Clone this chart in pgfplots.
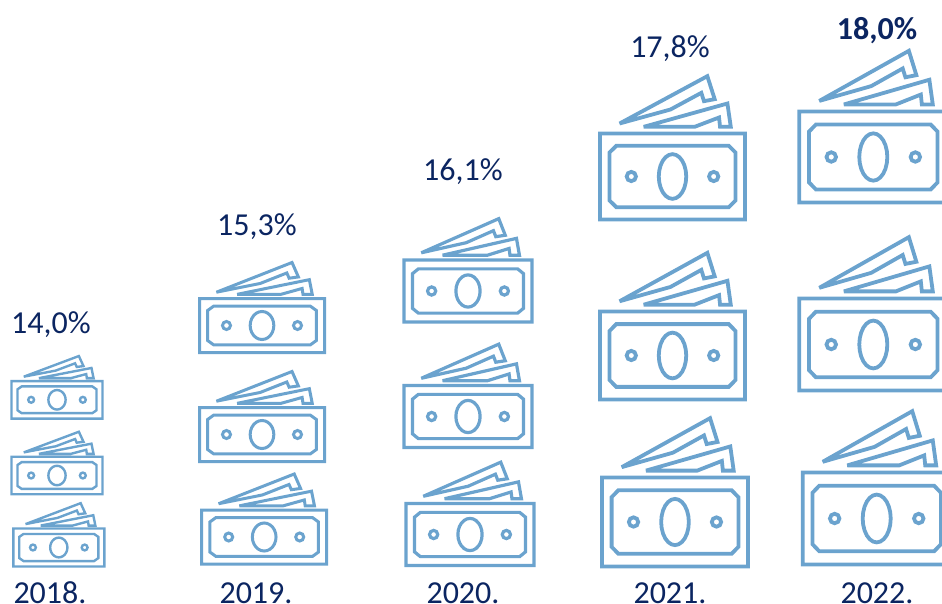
\documentclass[border=0pt]{standalone}
\usepackage{fontspec}
\setmainfont{Carlito}
\usepackage{pgfplots}
\usepackage{pgfplotstable}
\pgfplotsset{compat=1.18}

\definecolor{billblue}{HTML}{6BA3CE}
\definecolor{labelnavy}{HTML}{0B2561}

% one banknote, units relative to the centre of the front note
\pgfplotstableread{
u v
-216.5 129
216.5 129
216.5 -129
-216.5 -129
-216.5 129
216.5 129
nan nan
-168 92
168 92
188 72
188 -72
168 -92
-168 -92
-188 -72
-188 72
-168 92
168 92
nan nan
-158 159
104 301
126 232
94 226
86 251
-6 201
-158 159
104 301
nan nan
-86 149
164 219
174 149
142 149
139 177
66 149
-86 149
164 219
nan nan
41 0
39.6 17.4
35.5 33.5
29 47.4
20.5 58
10.6 64.7
0 67
-10.6 64.7
-20.5 58
-29 47.4
-35.5 33.5
-39.6 17.4
-41 0
-39.6 -17.4
-35.5 -33.5
-29 -47.4
-20.5 -58
-10.6 -64.7
0 -67
10.6 -64.7
20.5 -58
29 -47.4
35.5 -33.5
39.6 -17.4
41 0
39.6 17.4
}\billshape

% the two small circles
\pgfplotstableread{
u v
-123 0
123 0
}\billdots

\pgfplotstableread{
x y lab
51 324.5 14,0\%
257 226.5 15,3\%
463 171.5 16,1\%
670 48.5 17,8\%
877 30.5 \textbf{18,0\%}
}\sharelabels

% centre x, centre y, width, height, line width
\newcommand{\bill}[5]{%
  \addplot[billblue, line width=#5, line join=miter, miter limit=3, unbounded coords=jump]
    table[x expr={#1+\thisrow{u}*#3/433}, y expr={#2-\thisrow{v}*#4/258}] {\billshape};
  \addplot[only marks, mark=o, mark size={0.032*#3}, mark options={draw=billblue, line width=#5, fill=none}]
    table[x expr={#1+\thisrow{u}*#3/433}, y expr={#2-\thisrow{v}*#4/258}] {\billdots};
}

\begin{document}
\begin{tikzpicture}
\useasboundingbox (0,0) rectangle (942pt,604pt);
\clip (0,0) rectangle (942pt,604pt);
\begin{axis}[
    at={(0,0)}, anchor=south west,
    width=942pt, height=604pt, scale only axis,
    xmin=0, xmax=942, ymin=0, ymax=604,
    y dir=reverse,
    axis line style={draw=none},
    major tick length=0pt,
    ytick=\empty,
    xtick={50,256,463,670,877},
    xticklabels={2018.,2019.,2020.,2021.,2022.},
    xticklabel style={anchor=base, yshift=1pt, text=labelnavy, font=\fontsize{32}{38}\selectfont},
]
\bill{57}{399.8}{91}{37.5}{2.4pt}
\bill{57}{475.5}{91}{37.5}{2.4pt}
\bill{58.8}{547.5}{91}{38}{2.4pt}

\bill{262}{325.5}{125}{54}{3pt}
\bill{262}{434.5}{125}{54}{3pt}
\bill{264.2}{537}{125}{54}{3pt}

\bill{468}{291}{128}{62}{3.2pt}
\bill{468}{416.5}{128}{62}{3.2pt}
\bill{470}{534.5}{128}{62}{3.2pt}

\bill{672.5}{176.5}{145}{86}{3.8pt}
\bill{672.5}{355.5}{145}{88}{3.8pt}
\bill{675}{522}{146}{89}{3.8pt}

\bill{873.3}{157}{148}{91}{3.8pt}
\bill{873.3}{344.5}{148}{92}{3.8pt}
\bill{876.7}{518.5}{148}{92}{3.8pt}

\addplot[draw=none, mark=none, nodes near coords, point meta=explicit symbolic,
    nodes near coords style={anchor=center, text=labelnavy, font=\fontsize{32}{38}\selectfont}]
    table[x=x, y=y, meta=lab] {\sharelabels};
\end{axis}
\end{tikzpicture}
\end{document}
